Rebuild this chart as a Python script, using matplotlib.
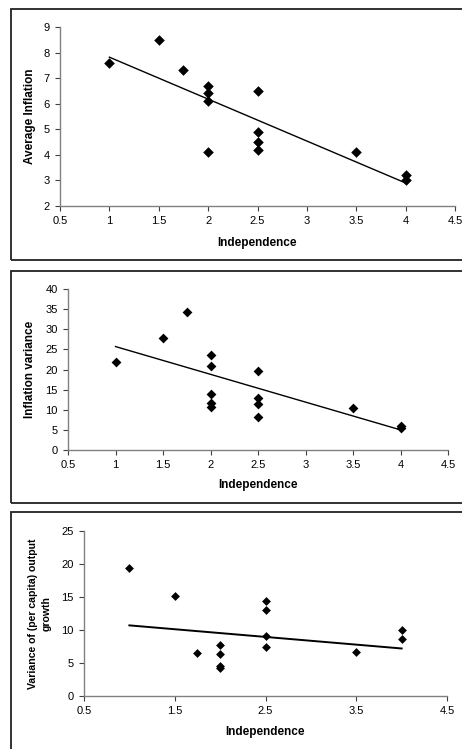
import matplotlib
matplotlib.use("Agg")
import matplotlib.pyplot as plt
from matplotlib.patches import Rectangle

plt.rcParams['font.family'] = ['Liberation Sans', 'DejaVu Sans']

# ---- data ----
x1 = [1, 1.5, 1.75, 2, 2, 2, 2, 2.5, 2.5, 2.5, 2.5, 3.5, 4, 4]
y1 = [7.6, 8.5, 7.3, 6.7, 6.4, 6.1, 4.1, 6.5, 4.9, 4.5, 4.2, 4.1, 3.2, 3.0]
trend_x = [1, 4]
trend1 = [7.82, 2.90]

x2 = [1, 1.5, 1.75, 2, 2, 2, 2, 2, 2.5, 2.5, 2.5, 2.5, 3.5, 4, 4]
y2 = [21.9, 27.8, 34.3, 23.6, 20.8, 13.9, 11.7, 10.7, 19.6, 12.8, 11.4, 8.3, 10.4, 5.9, 5.5]
trend2 = [25.7, 5.0]

x3 = [1, 1.5, 1.75, 2, 2, 2, 2, 2.5, 2.5, 2.5, 2.5, 3.5, 4, 4]
y3 = [19.4, 15.2, 6.5, 7.8, 6.4, 4.6, 4.3, 14.4, 13.0, 9.1, 7.4, 6.7, 10.0, 8.6]
trend3 = [10.7, 7.2]

xlabel = "Independence"
ylabels = ["Average Inflation", "Inflation variance", "Variance of (per capita) output\ngrowth"]
xticks12 = [0.5, 1, 1.5, 2, 2.5, 3, 3.5, 4, 4.5]
xticks3 = [0.5, 1.5, 2.5, 3.5, 4.5]
yticks1 = [2, 3, 4, 5, 6, 7, 8, 9]
yticks2 = [0, 5, 10, 15, 20, 25, 30, 35, 40]
yticks3 = [0, 5, 10, 15, 20, 25]

W, H = 462, 749
fig = plt.figure(figsize=(W / 100, H / 100), dpi=100)

def fx(px):
    return px / W

def fy(py):
    return 1 - py / H

# panel frames
for top, bot in [(9, 260), (271, 503), (512, 760)]:
    fig.patches.append(Rectangle((fx(11), fy(bot)), fx(470) - fx(11), fy(top) - fy(bot),
                                 transform=fig.transFigure, fill=False,
                                 edgecolor='#222222', linewidth=1.3))

specs = [
    (x1, y1, trend1, (60, 455, 27, 206), xticks12, yticks1, ylabels[0], 5.4, 1.0, (30, 243), 8.5),
    (x2, y2, trend2, (68, 448, 289, 450), xticks12, yticks2, ylabels[1], 5.0, 1.0, (30, 485), 8.5),
    (x3, y3, trend3, (84, 447, 531, 696), xticks3, yticks3, ylabels[2], 4.5, 1.4, (40, 732), 7.6),
]

for xs, ys, tr, (l, r, t, b), xt, yt, ylab, ms, lw, (ylx, xly), yfs in specs:
    ax = fig.add_axes([fx(l), fy(b), fx(r) - fx(l), fy(t) - fy(b)])
    ax.scatter(xs, ys, marker='D', s=ms ** 2, color='black', zorder=3, linewidths=0)
    ax.plot(trend_x, tr, color='black', linewidth=lw, zorder=2)
    ax.set_xlim(xt[0], xt[-1])
    ax.set_ylim(yt[0], yt[-1])
    ax.set_xticks(xt)
    ax.set_xticklabels([f"{v:g}" for v in xt])
    ax.set_yticks(yt)
    ax.set_yticklabels([f"{v:g}" for v in yt])
    for s in ['top', 'right']:
        ax.spines[s].set_visible(False)
    for s in ['left', 'bottom']:
        ax.spines[s].set_color('#808080')
        ax.spines[s].set_linewidth(1.0)
    ax.tick_params(direction='out', length=3.5, width=0.8, color='#404040',
                   labelsize=8, pad=4)
    ax.set_facecolor('none')
    fig.text(fx(ylx), (fy(t) + fy(b)) / 2, ylab, rotation=90, ha='center', va='center',
             fontsize=yfs, fontweight='bold', multialignment='center', linespacing=1.45)
    fig.text((fx(l) + fx(r)) / 2, fy(xly), xlabel, ha='center', va='center',
             fontsize=8.5, fontweight='bold')

fig.savefig("out.png", dpi=100, facecolor='white')
